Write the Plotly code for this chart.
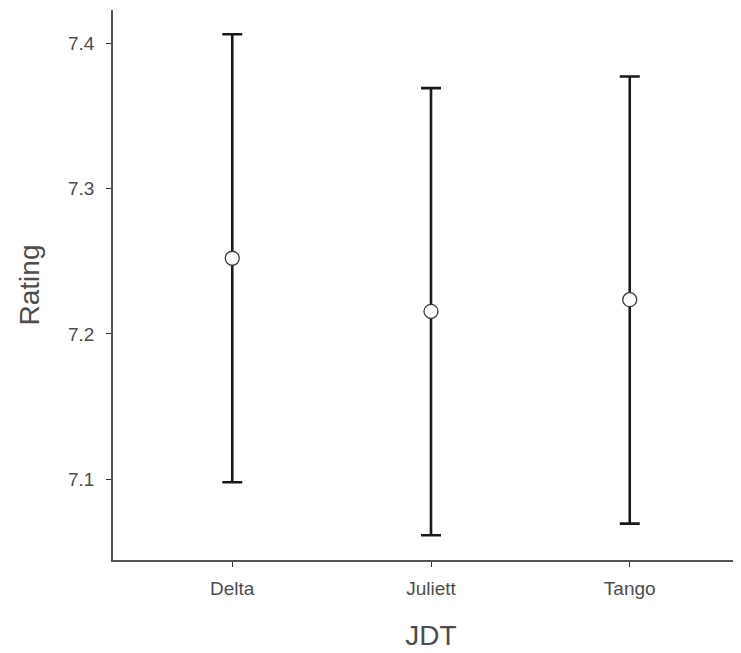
import plotly.graph_objects as go

categories = ["Delta", "Juliett", "Tango"]
means = [7.252, 7.2155, 7.2235]
upper = [7.406, 7.369, 7.377]
lower = [7.098, 7.0615, 7.0695]
y_ticks = [7.1, 7.2, 7.3, 7.4]

xpos = list(range(len(categories)))
err_plus = [u - m for u, m in zip(upper, means)]
err_minus = [m - l for m, l in zip(means, lower)]

fig = go.Figure()
fig.add_trace(go.Scatter(
    x=xpos, y=means, mode="markers",
    marker=dict(size=14, color="white", line=dict(color="#3a3a3a", width=1.3)),
    error_y=dict(type="data", symmetric=False, array=err_plus, arrayminus=err_minus,
                 color="#1a1a1a", thickness=2.6, width=10),
    showlegend=False,
))

font_family = "Liberation Sans, Arial, sans-serif"
fig.update_layout(
    width=741, height=653,
    margin=dict(l=105, r=0, t=2, b=101),
    plot_bgcolor="white", paper_bgcolor="white",
    font=dict(family=font_family),
)
fig.update_xaxes(
    range=[-0.6, 2.6], tickmode="array", tickvals=xpos, ticktext=categories,
    showgrid=False, zeroline=False, showline=True, linecolor="#555555", linewidth=1.6,
    ticks="outside", ticklen=5, tickcolor="#333333", tickwidth=1.4,
    tickfont=dict(size=19, color="#4d4d4d"), ticklabelstandoff=5,
    title=dict(text="JDT", font=dict(size=28, color="#4d4d4d"), standoff=28),
)
fig.update_yaxes(
    range=[7.0445, 7.4227], tickmode="array", tickvals=y_ticks,
    ticktext=[f"{v:.1f}" for v in y_ticks],
    showgrid=False, zeroline=False, showline=True, linecolor="#555555", linewidth=1.6,
    ticks="outside", ticklen=5, tickcolor="#333333", tickwidth=1.4,
    tickfont=dict(size=19, color="#4d4d4d"), ticklabelstandoff=8,
    title=dict(text="Rating", font=dict(size=28, color="#4d4d4d"), standoff=20),
)
fig.write_html("out.html")
